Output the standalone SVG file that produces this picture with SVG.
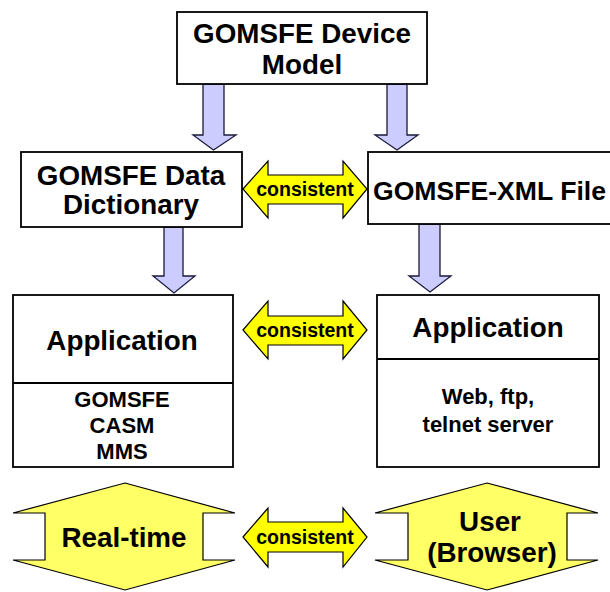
<svg xmlns="http://www.w3.org/2000/svg" width="610" height="592" viewBox="0 0 610 592">
<style>
.box{fill:#ffffff;stroke:#000000;stroke-width:1.8}
.down{fill:#ccccff;stroke:#1a1a3a;stroke-width:1.3}
.cons{fill:#ffff00;stroke:#000000;stroke-width:1.2}
.end{fill:#ffff66;stroke:#000000;stroke-width:1.2}
text{font-family:"Liberation Sans",Arial,sans-serif;font-weight:bold;fill:#000000;text-anchor:middle}
.t27{font-size:27.8px}
.t22{font-size:22px}
.t19{font-size:19.5px}
</style>
<rect width="610" height="592" fill="#ffffff"/>
<g id="connectors">
<polygon class="down" points="203,84 224,84 224,135 236,135 213.5,150 193,135 203,135"/>
<polygon class="down" points="387,84 407,84 407,135 418,135 397,150 375,135 387,135"/>
<polygon class="down" points="164,227 183,227 183,276 195,276 174,293 153,276 164,276"/>
<polygon class="down" points="419,224 440,224 440,276 451,276 430,292 409,276 419,276"/>
<g id="consistent1">
<polygon class="cons" points="243,189 268,161 268,175 343,175 343,161 367,189 343,218 343,204 268,204 268,218"/>
<text class="t19" x="305" y="196">consistent</text>
</g>
<g id="consistent2">
<polygon class="cons" points="243,330 268,301 268,316 343,316 343,301 367,330 343,359 343,345 268,345 268,359"/>
<text class="t19" x="305" y="337">consistent</text>
</g>
<g id="consistent3">
<polygon class="cons" points="243,537 268,508 268,522 343,522 343,508 367,537 343,567 343,552 268,552 268,567"/>
<text class="t19" x="305" y="544">consistent</text>
</g>
</g>
<g id="device-model">
<rect class="box" x="177" y="12" width="250" height="72"/>
<text class="t27" x="302" y="43">GOMSFE Device</text>
<text class="t27" x="302" y="74">Model</text>
</g>
<g id="data-dictionary">
<rect class="box" x="21" y="152" width="221" height="75"/>
<text class="t27" x="131" y="185">GOMSFE Data</text>
<text class="t27" x="131" y="214">Dictionary</text>
</g>
<g id="xml-file">
<rect class="box" x="368" y="152" width="260" height="72"/>
<text x="373" y="200" style="font-size:26.6px;text-anchor:start">GOMSFE-XML File</text>
</g>
<g id="application-left">
<rect class="box" x="13" y="295" width="220" height="172"/>
<line x1="13" y1="383" x2="233" y2="383" stroke="#000" stroke-width="1.8"/>
<text class="t27" x="122" y="350">Application</text>
<text class="t22" x="122" y="407">GOMSFE</text>
<text class="t22" x="122" y="433">CASM</text>
<text class="t22" x="122" y="459">MMS</text>
</g>
<g id="application-right">
<rect class="box" x="377" y="295" width="222" height="172"/>
<line x1="377" y1="359" x2="599" y2="359" stroke="#000" stroke-width="1.8"/>
<text class="t27" x="488" y="337">Application</text>
<text class="t22" x="488" y="404">Web, ftp,</text>
<text class="t22" x="488" y="432">telnet server</text>
</g>
<g id="real-time">
<polygon class="end" points="125,483 235,513 203,513 203,560 235,560 125,590 13,560 45,560 45,513 13,513"/>
<text class="t27" x="124" y="547">Real-time</text>
</g>
<g id="user-browser">
<polygon class="end" points="487,483 598,513 567,513 567,560 598,560 487,590 375,560 408,560 408,513 375,513"/>
<text class="t27" x="490" y="531">User</text>
<text class="t27" x="492" y="562">(Browser)</text>
</g>
</svg>
